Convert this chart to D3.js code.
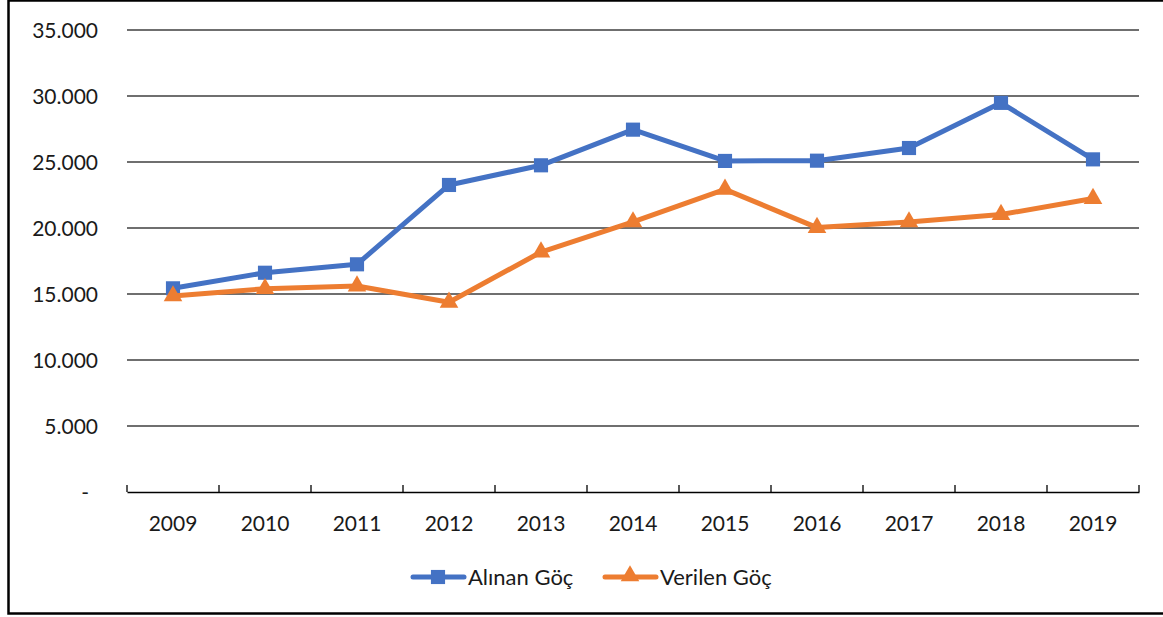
<!DOCTYPE html>
<html>
<head>
<meta charset="utf-8">
<script src="https://cdn.jsdelivr.net/npm/d3@7"></script>
<style>
  body { margin: 0; background: #fff; }
  svg { display: block; }
  text { font-family: Lato, "Open Sans", sans-serif; fill: #1a1a1a; }
</style>
</head>
<body>
<div id="vis1"></div>
<script>
const WIDTH = 1163;
const HEIGHT = 617;
const MARG = {left: 127, right: 24, top: 30, bottom: 125};

// data
const YEARS = ["2009", "2010", "2011", "2012", "2013", "2014", "2015", "2016", "2017", "2018", "2019"];
const ALINAN = [15430, 16610, 17250, 23260, 24750, 27450, 25080, 25100, 26060, 29480, 25200];
const VERILEN = [14850, 15400, 15600, 14370, 18180, 20460, 22930, 20030, 20460, 21020, 22230];
const Y_TICKS = [0, 5000, 10000, 15000, 20000, 25000, 30000, 35000];
const SERIES_NAMES = ["Alınan Göç", "Verilen Göç"];
const COLORS = ["#4472C4", "#ED7D31"];

const VIS_WIDTH = WIDTH - MARG.left - MARG.right;
const VIS_HEIGHT = HEIGHT - MARG.top - MARG.bottom;

const FRAME = d3.select("#vis1")
  .append("svg")
    .attr("width", WIDTH)
    .attr("height", HEIGHT);

// outer border of the chart box
FRAME.append("rect")
  .attr("x", 8.5).attr("y", 0.5)
  .attr("width", WIDTH + 20).attr("height", 613)
  .attr("fill", "none")
  .attr("stroke", "#000")
  .attr("stroke-width", 2.5);

const X_SCALE = d3.scaleBand().domain(YEARS).range([0, VIS_WIDTH]);
const Y_SCALE = d3.scaleLinear().domain([0, 35000]).range([VIS_HEIGHT, 0]);

const g = FRAME.append("g").attr("transform", "translate(" + MARG.left + "," + MARG.top + ")");

const fmt = (d) => d === 0 ? "-" : d3.format(",")(d).replace(/,/g, ".");

// gridlines
g.selectAll(".grid")
  .data(Y_TICKS.filter(d => d > 0))
  .enter().append("line")
    .attr("x1", 0).attr("x2", VIS_WIDTH)
    .attr("y1", d => Y_SCALE(d)).attr("y2", d => Y_SCALE(d))
    .attr("stroke", "#3f3f3f")
    .attr("stroke-width", 1.3);

// y labels
g.selectAll(".ylab")
  .data(Y_TICKS)
  .enter().append("text")
    .attr("x", d => d === 0 ? -38 : -29)
    .attr("y", d => Y_SCALE(d))
    .attr("dy", "0.36em")
    .attr("text-anchor", "end")
    .attr("font-size", 21)
    .text(fmt);

// x axis
const xAxis = g.append("g")
  .attr("transform", "translate(0," + VIS_HEIGHT + ")")
  .call(d3.axisBottom(X_SCALE).tickSize(0).tickPadding(24));
xAxis.select(".domain").attr("stroke", "#000").attr("stroke-width", 1.3);
xAxis.selectAll("text").attr("font-size", 21).attr("font-family", "Lato, sans-serif").attr("fill", "#1a1a1a");

// band boundary ticks pointing up
const bounds = YEARS.map(d => X_SCALE(d)).concat([VIS_WIDTH]);
g.selectAll(".btick")
  .data(bounds)
  .enter().append("line")
    .attr("x1", d => d).attr("x2", d => d)
    .attr("y1", VIS_HEIGHT - 7).attr("y2", VIS_HEIGHT)
    .attr("stroke", "#000")
    .attr("stroke-width", 1.3);

const cx = (d, i) => X_SCALE(YEARS[i]) + X_SCALE.bandwidth() / 2;
const line = d3.line().x(cx).y(d => Y_SCALE(d));

const sq = d3.symbol().type(d3.symbolSquare).size(200);
const tri = d3.symbol().type(d3.symbolTriangle).size(150);

[ALINAN, VERILEN].forEach((vals, s) => {
  g.append("path")
    .datum(vals)
    .attr("d", line)
    .attr("fill", "none")
    .attr("stroke", COLORS[s])
    .attr("stroke-width", 5)
    .attr("stroke-linejoin", "round")
    .attr("stroke-linecap", "round");

  g.selectAll(".m" + s)
    .data(vals)
    .enter().append("path")
      .attr("transform", (d, i) => "translate(" + cx(d, i) + "," + Y_SCALE(d) + ")")
      .attr("d", s === 0 ? sq : tri)
      .attr("fill", COLORS[s]);
});

// legend
const legend = FRAME.append("g").attr("transform", "translate(411,577)");
const legX = [0, 192];
SERIES_NAMES.forEach((name, s) => {
  const lg = legend.append("g").attr("transform", "translate(" + legX[s] + ",0)");
  lg.append("line")
    .attr("x1", 2).attr("x2", 53)
    .attr("stroke", COLORS[s])
    .attr("stroke-width", 5)
    .attr("stroke-linecap", "round");
  lg.append("path")
    .attr("transform", "translate(27," + (s === 0 ? 0 : -1) + ")")
    .attr("d", s === 0 ? sq : tri)
    .attr("fill", COLORS[s]);
  lg.append("text")
    .attr("x", 57)
    .attr("dy", "0.36em")
    .attr("font-size", 22)
    .text(name);
});
</script>
</body>
</html>
